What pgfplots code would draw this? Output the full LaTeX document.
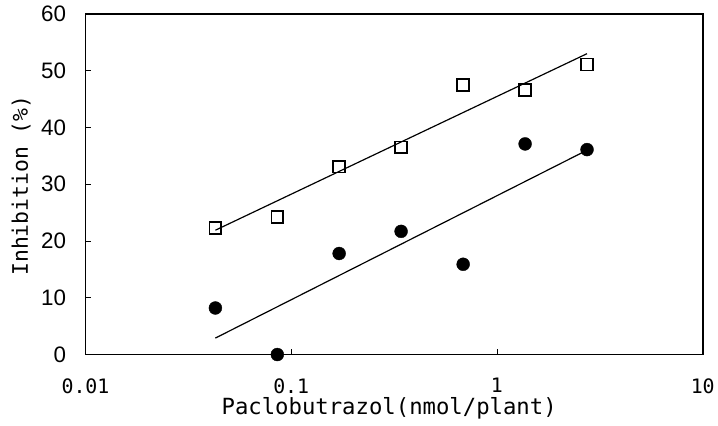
\documentclass[border=0pt]{standalone}
\usepackage{pgfplots}
\pgfplotsset{compat=1.18}
\usepackage{fontspec}
\newfontfamily\mono{DejaVu Sans Mono}
\newfontfamily\ticksans{Liberation Sans}
\begin{document}
\begin{tikzpicture}
\begin{axis}[
  scale only axis,
  width=621pt, height=342.7pt,
  xmode=log,
  xmin=0.01, xmax=10,
  ymin=0, ymax=60,
  xtick={0.01,0.1,1,10},
  xticklabels={0.01,0.1,1,10},
  ytick={0,10,20,30,40,50,60},
  yticklabels={0,10,20,30,40,50,60},
  minor tick length=0pt,
  every minor tick/.style={draw=none},
  xtick pos=bottom, ytick pos=left,
  tick align=inside,
  major tick length=6pt,
  every tick/.style={line width=0.8pt, black},
  axis line style={line width=1.6pt},
  /pgf/number format/assume math mode=true,
  xticklabel style={font=\mono\fontsize{20}{24}\selectfont, yshift=-20.5pt},
  yticklabel style={font=\ticksans\fontsize{22.5}{26}\selectfont, xshift=-16pt},
  xlabel={Paclobutrazol(nmol/plant)},
  ylabel={Inhibition (\%)},
  xlabel style={font=\mono\fontsize{22.4}{26}\selectfont, at={(axis description cs:0.492,0)}, anchor=base, yshift=-60pt},
  ylabel style={font=\mono\fontsize{21.5}{26}\selectfont, at={(axis description cs:0,0.496)}, anchor=base, yshift=58pt},
  clip=false,
]
\addplot[black, line width=1.2pt] coordinates {(0.0428,21.9) (2.74,53.0)};
\addplot[black, line width=1.2pt] coordinates {(0.0428,2.9) (2.74,36.0)};
\addplot[only marks, mark=square, mark size=5.9pt, mark options={fill=white, draw=black, line width=1.6pt}] coordinates {
 (0.0428,22.3) (0.0856,24.2) (0.171,33.1) (0.342,36.5) (0.685,47.5) (1.37,46.6) (2.74,51.1)};
\addplot[only marks, mark=*, mark size=6.5pt, mark options={fill=black, draw=black, line width=0.4pt}] coordinates {
 (0.0428,8.2) (0.0856,0) (0.171,17.8) (0.342,21.7) (0.685,15.9) (1.37,37.1) (2.74,36.1)};
\end{axis}
\path[use as bounding box] (-86pt,-71.3pt) rectangle (632pt,356.7pt);
\end{tikzpicture}
\end{document}
